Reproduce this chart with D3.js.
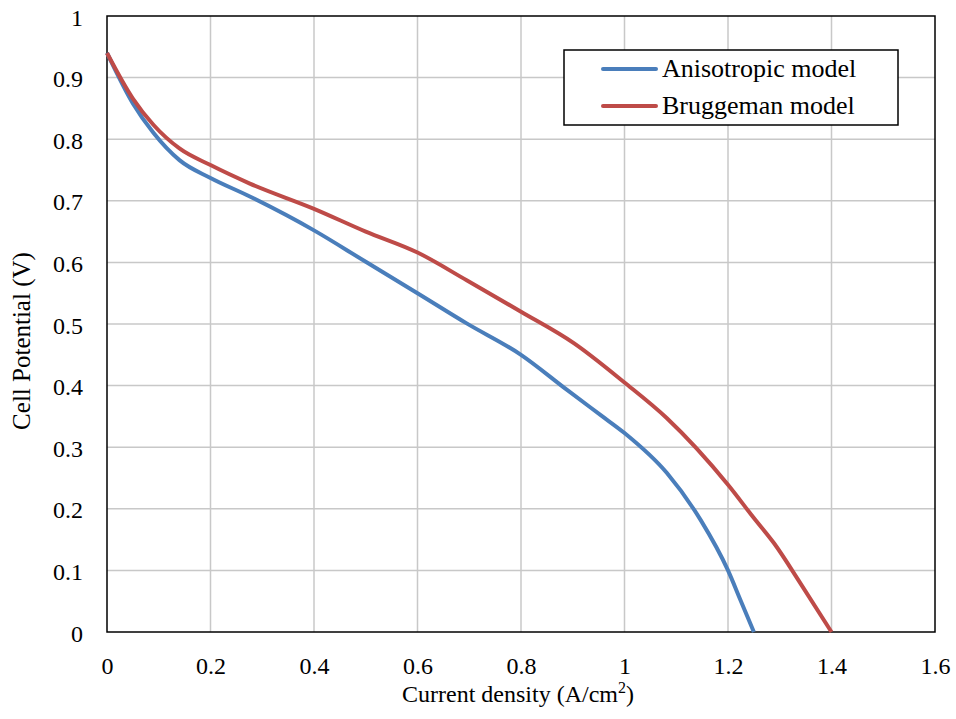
<!DOCTYPE html>
<html>
<head>
<meta charset="utf-8">
<script src="https://cdn.jsdelivr.net/npm/d3@7"></script>
<style>
  html, body { margin: 0; padding: 0; background: #fff; }
</style>
</head>
<body>
<svg id="chart" width="956" height="719"></svg>
<script>
// ---- data ----
const seriesNames = ["Anisotropic model", "Bruggeman model"];
const seriesColors = ["#4a7ebb", "#be4b48"];

const anisoX = [0, 0.05, 0.09, 0.14, 0.2, 0.276, 0.4, 0.5, 0.6, 0.695, 0.8, 0.889, 0.954, 1.0, 1.082, 1.147, 1.2, 1.224, 1.25];
const anisoY = [0.94, 0.858, 0.81, 0.766, 0.737, 0.707, 0.652, 0.601, 0.55, 0.501, 0.45, 0.393, 0.352, 0.323, 0.258, 0.182, 0.10, 0.052, 0];

const bruggX = [0, 0.05, 0.09, 0.14, 0.2, 0.276, 0.4, 0.5, 0.6, 0.695, 0.8, 0.902, 1.0, 1.082, 1.2, 1.25, 1.289, 1.34, 1.4];
const bruggY = [0.94, 0.866, 0.823, 0.785, 0.758, 0.728, 0.687, 0.650, 0.616, 0.571, 0.520, 0.469, 0.405, 0.347, 0.239, 0.185, 0.144, 0.079, 0];

const xTicks = [0, 0.2, 0.4, 0.6, 0.8, 1, 1.2, 1.4, 1.6];
const yTicks = [0, 0.1, 0.2, 0.3, 0.4, 0.5, 0.6, 0.7, 0.8, 0.9, 1];

const xTitle = "Current density (A/cm";
const xTitleSup = "2";
const xTitleEnd = ")";
const yTitle = "Cell Potential (V)";

// ---- layout ----
const FONT = "Liberation Serif";
const M = { left: 107, right: 935, top: 16, bottom: 632 };
const svg = d3.select("#chart");

const x = d3.scaleLinear().domain([0, 1.6]).range([M.left, M.right]);
const y = d3.scaleLinear().domain([0, 1]).range([M.bottom, M.top]);

// grid
svg.append("g").selectAll("line.vg").data(xTicks.slice(1, -1)).join("line")
  .attr("x1", d => x(d)).attr("x2", d => x(d))
  .attr("y1", M.top).attr("y2", M.bottom)
  .attr("stroke", "#c8c8c8").attr("stroke-width", 1.5);
svg.append("g").selectAll("line.hg").data(yTicks.slice(1, -1)).join("line")
  .attr("x1", M.left).attr("x2", M.right)
  .attr("y1", d => y(d)).attr("y2", d => y(d))
  .attr("stroke", "#c8c8c8").attr("stroke-width", 1.5);

// plot border
svg.append("rect")
  .attr("x", M.left).attr("y", M.top)
  .attr("width", M.right - M.left).attr("height", M.bottom - M.top)
  .attr("fill", "none").attr("stroke", "#000").attr("stroke-width", 1.5);

// axes (labels only, via d3 axes)
const xAxis = svg.append("g").attr("transform", `translate(0,${M.bottom})`)
  .call(d3.axisBottom(x).tickValues(xTicks).tickSize(0).tickPadding(25).tickFormat(d3.format("~g")));
xAxis.select(".domain").remove();
xAxis.attr("font-size", 24).attr("font-family", FONT);
xAxis.selectAll("text").attr("fill", "#000");

const yAxis = svg.append("g").attr("transform", `translate(${M.left},0)`)
  .call(d3.axisLeft(y).tickValues(yTicks).tickSize(0).tickPadding(24).tickFormat(d3.format("~g")));
yAxis.select(".domain").remove();
yAxis.attr("font-size", 24).attr("font-family", FONT);
yAxis.selectAll("text").attr("fill", "#000").attr("dy", "0.38em");

// lines
const line = d3.line().x(d => x(d[0])).y(d => y(d[1])).curve(d3.curveMonotoneX);
const series = [
  d3.zip(anisoX, anisoY),
  d3.zip(bruggX, bruggY)
];
svg.append("g").selectAll("path.s").data(series).join("path")
  .attr("d", line)
  .attr("fill", "none")
  .attr("stroke", (d, i) => seriesColors[i])
  .attr("stroke-width", 4)
  .attr("stroke-linejoin", "round");

// axis titles
const xt = svg.append("text")
  .attr("x", 518).attr("y", 702)
  .attr("text-anchor", "middle").attr("font-family", FONT).attr("font-size", 24).attr("fill", "#000");
xt.append("tspan").text(xTitle);
xt.append("tspan").attr("font-size", 16).attr("dy", -9).text(xTitleSup);
xt.append("tspan").attr("dy", 9).text(xTitleEnd);

svg.append("text")
  .attr("transform", `translate(30,341) rotate(-90)`)
  .attr("text-anchor", "middle").attr("font-family", FONT).attr("font-size", 25).attr("fill", "#000")
  .text(yTitle);

// legend
const lg = svg.append("g");
lg.append("rect").attr("x", 564).attr("y", 50).attr("width", 334).attr("height", 75)
  .attr("fill", "#fff").attr("stroke", "#000").attr("stroke-width", 1.5);
const items = lg.selectAll("g.item").data(seriesNames).join("g")
  .attr("transform", (d, i) => `translate(0,${69 + i * 37})`);
items.append("line").attr("x1", 603).attr("x2", 656).attr("y1", 0).attr("y2", 0)
  .attr("stroke", (d, i) => seriesColors[i]).attr("stroke-width", 4).attr("stroke-linecap", "round");
items.append("text").attr("x", 662).attr("y", 8)
  .attr("font-family", FONT).attr("font-size", 26).attr("fill", "#000").text(d => d);
</script>
</body>
</html>
